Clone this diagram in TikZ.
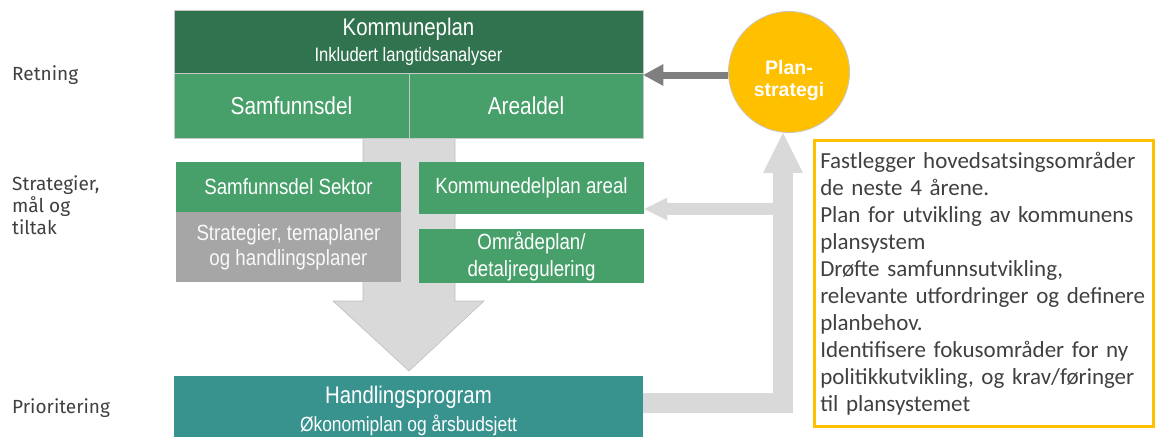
\documentclass[tikz,border=0pt]{standalone}
\usepackage{fontspec}
\setmainfont{Liberation Sans}
\newfontfamily\narrowfont{Liberation Sans}[FakeStretch=0.85]
\newfontfamily\notefont{Carlito}[WordSpace=0.6]
\newfontfamily\sidefont{Fira Sans}
\usetikzlibrary{arrows.meta}
\definecolor{darkgreen}{HTML}{31734F}
\definecolor{lightgreen}{HTML}{47A069}
\definecolor{midgray}{HTML}{A6A6A6}
\definecolor{tealbox}{HTML}{38938F}
\definecolor{plangold}{HTML}{FFC000}
\definecolor{arrowgray}{HTML}{D9D9D9}
\definecolor{darkarrow}{HTML}{7F7F7F}
\definecolor{textgray}{HTML}{404040}

\begin{document}
\begin{tikzpicture}[x=1pt,y=-1pt,
  box/.style={draw=gray!45, line width=0.8pt, text=white, align=center, inner sep=0pt,
    font=\narrowfont\fontsize{22}{25}\selectfont},
  side/.style={anchor=west, align=left, text=textgray, inner sep=0pt,
    font=\sidefont\fontsize{19}{22}\selectfont},
  thickarrow/.style={draw=arrowgray, -{Triangle[width=#1,length=#1,line width=0pt]}}]
\useasboundingbox (0,0) rectangle (1155,436);

% big arrow down, behind the boxes
\fill[arrowgray, draw=gray!50, line width=0.6pt] (363,138) -- (363,301) -- (333,301) -- (409,371)
  -- (484,301) -- (455,301) -- (455,138) -- cycle;

\node[box, fill=darkgreen, minimum width=469, minimum height=63, font=\narrowfont\fontsize{24}{25}\selectfont] (kp) at (408.5,41.5)
  {Kommuneplan\\[1pt]{\fontsize{19.5}{20}\selectfont Inkludert langtidsanalyser}};
\node[box, fill=lightgreen, minimum width=235, minimum height=65, font=\narrowfont\fontsize{24.5}{26}\selectfont] (samf) at (291.5,105.5) {Samfunnsdel};
\node[box, fill=lightgreen, minimum width=234, minimum height=65, font=\narrowfont\fontsize{24.5}{26}\selectfont] (areal) at (526,105.5) {Arealdel};

\node[box, fill=lightgreen, draw=none, minimum width=225, minimum height=50] (sektor) at (288.5,187) {Samfunnsdel Sektor};
\node[box, fill=midgray, draw=none, minimum width=225, minimum height=70, text=white!95!gray] (strat) at (288.5,247)
  {Strategier, temaplaner\\og handlingsplaner};
\node[box, fill=lightgreen, draw=none, minimum width=225, minimum height=52] (kda) at (531.5,188) {Kommunedelplan areal};
\node[box, fill=lightgreen, draw=none, minimum width=225, minimum height=54,
  font=\narrowfont\fontsize{22}{27}\selectfont] (omr) at (531.5,256) {Områdeplan/\\detaljregulering};

\node[box, fill=tealbox, draw=none, minimum width=469, minimum height=70,
  font=\narrowfont\fontsize{24}{28}\selectfont] (hp) at (408.5,411)
  {Handlingsprogram\\{\fontsize{20.5}{20}\selectfont Økonomiplan og årsbudsjett}};

\node[circle, fill=plangold, draw=gray!45, line width=0.8pt, minimum size=121,
  label={[text=white, align=center, yshift=-9pt, font=\bfseries\fontsize{19.5}{22}\selectfont]center:Plan-\\strategi}]
  (plan) at (789,72) {};

\node[draw=plangold, line width=2.5pt, anchor=north west, minimum width=339, minimum height=286,
  text width=327, inner xsep=6, align=left, text=textgray, font=\notefont\fontsize{23}{27}\selectfont] (note) at (813,139)
  {Fastlegger hovedsatsingsområder\\de neste 4 årene.\\Plan for utvikling av kommunens\\plansystem\\
   Drøfte samfunnsutvikling,\\relevante utfordringer og definere\\planbehov.\\
   Identifisere fokusområder for ny\\politikkutvikling, og krav/føringer\\til plansystemet};

\node[side] (retning) at (12,75) {Retning};
\node[side] (strategier) at (12,205) {Strategier,\\mål og\\tiltak};
\node[side] (prior) at (12,408) {Prioritering};

% arrows
\draw[thickarrow=40pt, line width=20pt] ([yshift=8.5pt]hp.east) -| ([xshift=-6pt]plan.south);
\coordinate (branch) at (783,209);
\draw[thickarrow=23pt, line width=12pt] (branch) -- (branch -| kda.east);
\draw[draw=darkarrow, line width=7pt, -{Triangle[width=22pt,length=20pt,line width=0pt]}]
  ([yshift=-3pt]plan.west) -- ([yshift=-3pt]plan.west -| kp.east);
\end{tikzpicture}
\end{document}
